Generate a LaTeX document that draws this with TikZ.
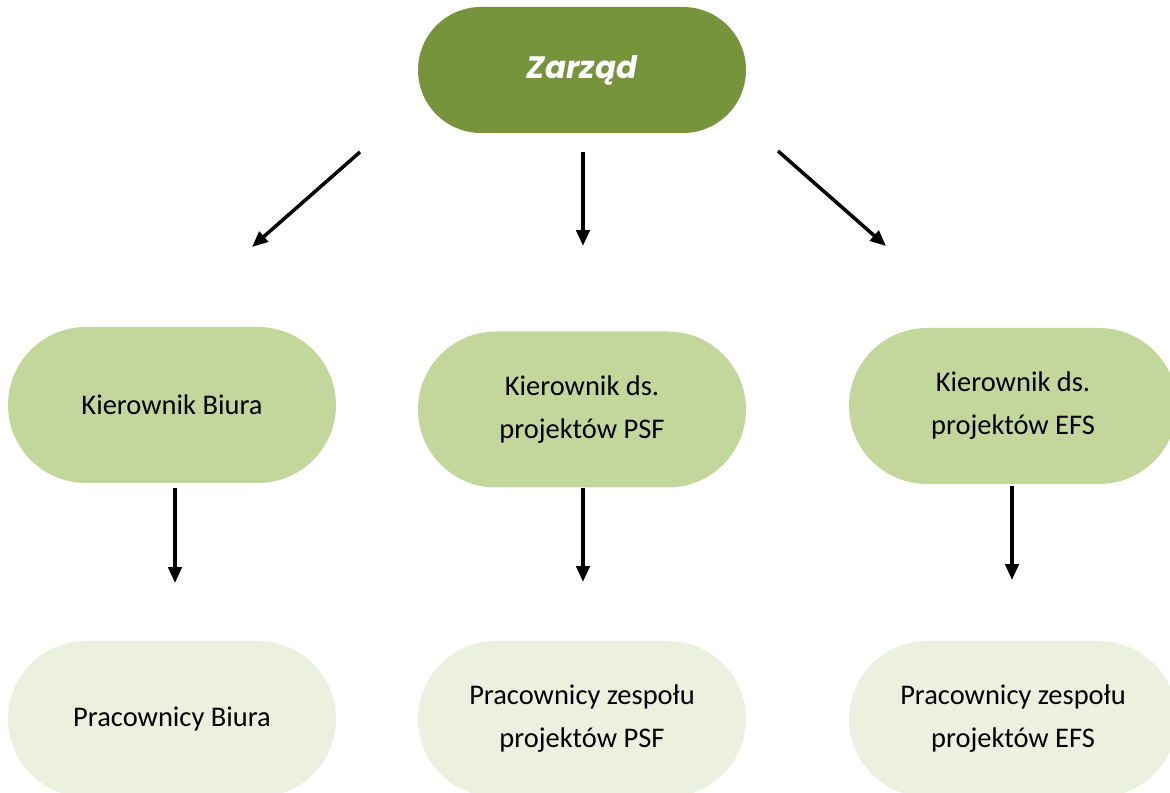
\documentclass[tikz,border=0pt]{standalone}
\usepackage{fontspec}
\setmainfont{Carlito}
\newfontfamily\zarzadfont{Poppins}
\usetikzlibrary{arrows.meta}

\definecolor{oliwka}{HTML}{77933C}
\definecolor{oliwkajasna}{HTML}{C3D69B}
\definecolor{oliwkablada}{HTML}{EBF1DE}

\begin{document}
\begin{tikzpicture}[
    szef/.style={
      fill=oliwka,
      rounded corners=1.26cm,
      minimum width=6.56cm,
      minimum height=2.52cm,
      text=white,
      font=\zarzadfont\bfseries\itshape\fontsize{17.6}{20}\selectfont},
    kierownik/.style={
      fill=oliwkajasna,
      rounded corners=1.56cm,
      minimum width=6.56cm,
      minimum height=3.12cm,
      align=center,
      font=\fontsize{16.2}{24.5}\selectfont},
    pracownik/.style={
      kierownik,
      fill=oliwkablada},
    strzalka/.style={
      line width=2pt,
      -{Triangle[length=9pt,width=7.5pt]}}
    ]

  \useasboundingbox (0,0) rectangle (23.4,-15.86);

  % gora
  \node at (11.64,-1.40) (zarzad) [szef] {Zarząd};

  % kierownicy
  \node at (3.44,-8.10) (kbiura) [kierownik] {Kierownik Biura};
  \node at (11.64,-8.19) (kpsf) [kierownik] {Kierownik ds.\\projektów PSF};
  \node at (20.26,-8.12) (kefs) [kierownik] {Kierownik ds.\\projektów EFS};

  % pracownicy
  \node at (3.44,-14.38) (pbiura) [pracownik] {Pracownicy Biura};
  \node at (11.64,-14.38) (ppsf) [pracownik] {Pracownicy zespołu\\projektów PSF};
  \node at (20.26,-14.38) (pefs) [pracownik] {Pracownicy zespołu\\projektów EFS};

  % konce strzalek
  \coordinate (z1) at (7.20,-3.04);
  \coordinate (z2) at (11.66,-3.04);
  \coordinate (z3) at (15.56,-3.02);
  \coordinate (k1) at (5.04,-4.94);
  \coordinate (k2) at (11.66,-4.92);
  \coordinate (k3) at (17.72,-4.92);
  \coordinate (b1) at (3.50,-9.76);
  \coordinate (b2) at (11.66,-9.76);
  \coordinate (b3) at (20.24,-9.72);
  \coordinate (p1) at (3.50,-11.66);
  \coordinate (p2) at (11.66,-11.64);
  \coordinate (p3) at (20.24,-11.60);

  \draw [strzalka] (z1) -- (k1);
  \draw [strzalka] (z2) -- (k2);
  \draw [strzalka] (z3) -- (k3);
  \draw [strzalka] (b1) -- (p1);
  \draw [strzalka] (b2) -- (p2);
  \draw [strzalka] (b3) -- (p3);

\end{tikzpicture}
\end{document}
